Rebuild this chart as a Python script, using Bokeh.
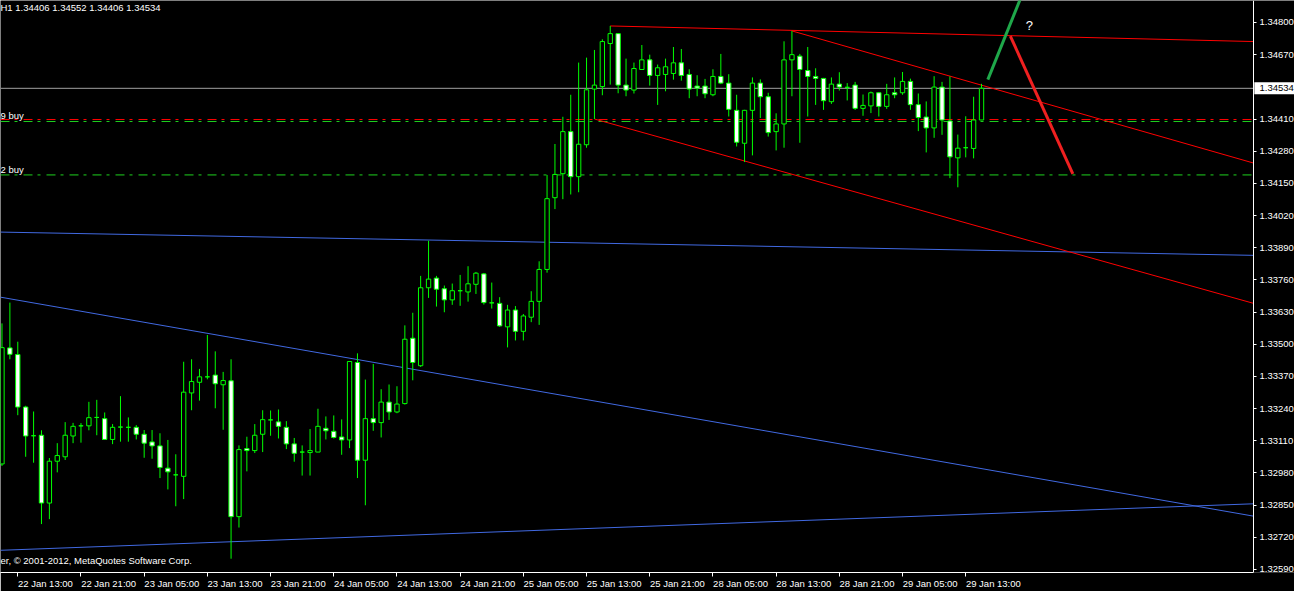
from bokeh.plotting import figure
from bokeh.models import Range1d, FixedTicker, PrintfTickFormatter, ColumnDataSource
from bokeh.embed import file_html
from bokeh.resources import INLINE
from bokeh.core.properties import value

# ---------------- data (H1 bars, 22 Jan 11:00 .. 29 Jan 15:00) ----------------
opens = [1.33016, 1.33485, 1.33458, 1.33246, 1.33130, 1.33132, 1.32858, 1.33027, 1.33045, 1.33129,
         1.33170, 1.33170, 1.33204, 1.33199, 1.33115, 1.33165, 1.33164, 1.33164, 1.33136, 1.33105,
         1.33089, 1.32999, 1.32972, 1.32966, 1.33303, 1.33346, 1.33368, 1.33375, 1.33336, 1.33352,
         1.32803, 1.33078, 1.33070, 1.33136, 1.33194, 1.33186, 1.33164, 1.33097, 1.33064, 1.33062,
         1.33064, 1.33160, 1.33148, 1.33125, 1.33113, 1.33426, 1.33031, 1.33199, 1.33183, 1.33266,
         1.33226, 1.33260, 1.33524, 1.33413, 1.33728, 1.33767, 1.33724, 1.33679, 1.33716, 1.33711,
         1.33742, 1.33784, 1.33667, 1.33665, 1.33570, 1.33638, 1.33552, 1.33609, 1.33673, 1.33802,
         1.34092, 1.34189, 1.34359, 1.34177, 1.34306, 1.34531, 1.34541, 1.34715, 1.34755, 1.34547,
         1.34527, 1.34610, 1.34649, 1.34586, 1.34590, 1.34594, 1.34637, 1.34590, 1.34543, 1.34543,
         1.34508, 1.34582, 1.34555, 1.34445, 1.34312, 1.34445, 1.34555, 1.34500, 1.34359, 1.34390,
         1.34649, 1.34664, 1.34606, 1.34582, 1.34574, 1.34480, 1.34551, 1.34538, 1.34547, 1.34453,
         1.34463, 1.34516, 1.34461, 1.34516, 1.34516, 1.34562, 1.34468, 1.34418, 1.34374, 1.34539,
         1.34402, 1.34253, 1.34294, 1.34291, 1.34406]
highs = [1.33584, 1.33668, 1.33510, 1.33251, 1.33228, 1.33152, 1.33040, 1.33100, 1.33185, 1.33182,
         1.33181, 1.33267, 1.33275, 1.33224, 1.33177, 1.33290, 1.33204, 1.33173, 1.33153, 1.33153,
         1.33140, 1.33113, 1.33055, 1.33429, 1.33439, 1.33400, 1.33537, 1.33471, 1.33388, 1.33439,
         1.33091, 1.33126, 1.33177, 1.33233, 1.33232, 1.33236, 1.33189, 1.33121, 1.33091, 1.33157,
         1.33239, 1.33208, 1.33212, 1.33196, 1.33431, 1.33463, 1.33357, 1.33420, 1.33318, 1.33337,
         1.33330, 1.33576, 1.33627, 1.33776, 1.33918, 1.33776, 1.33737, 1.33745, 1.33780, 1.33815,
         1.33792, 1.33788, 1.33749, 1.33690, 1.33659, 1.33654, 1.33622, 1.33714, 1.33835, 1.34184,
         1.34309, 1.34419, 1.34508, 1.34638, 1.34658, 1.34689, 1.34732, 1.34786, 1.34757, 1.34654,
         1.34638, 1.34709, 1.34670, 1.34630, 1.34654, 1.34701, 1.34693, 1.34611, 1.34587, 1.34572,
         1.34611, 1.34673, 1.34591, 1.34508, 1.34447, 1.34578, 1.34570, 1.34516, 1.34433, 1.34724,
         1.34766, 1.34673, 1.34701, 1.34615, 1.34576, 1.34578, 1.34599, 1.34555, 1.34560, 1.34509,
         1.34521, 1.34518, 1.34552, 1.34578, 1.34600, 1.34573, 1.34513, 1.34481, 1.34583, 1.34560,
         1.34582, 1.34347, 1.34421, 1.34500, 1.34552]
lows = [1.33008, 1.33439, 1.33213, 1.33045, 1.33021, 1.32773, 1.32793, 1.32982, 1.33032, 1.33100,
        1.33102, 1.33152, 1.33132, 1.33113, 1.33096, 1.33106, 1.33106, 1.33115, 1.33041, 1.33037,
        1.32959, 1.32913, 1.32845, 1.32874, 1.33233, 1.33272, 1.33358, 1.33241, 1.33154, 1.32633,
        1.32759, 1.32986, 1.33060, 1.33064, 1.33130, 1.33119, 1.33076, 1.33025, 1.32969, 1.32969,
        1.33064, 1.33115, 1.33119, 1.33053, 1.33080, 1.32959, 1.32849, 1.33150, 1.33123, 1.33194,
        1.33221, 1.33256, 1.33354, 1.33408, 1.33687, 1.33652, 1.33629, 1.33659, 1.33655, 1.33672,
        1.33703, 1.33660, 1.33644, 1.33570, 1.33487, 1.33515, 1.33515, 1.33589, 1.33578, 1.33789,
        1.34046, 1.34086, 1.34105, 1.34114, 1.34294, 1.34410, 1.34506, 1.34549, 1.34514, 1.34502,
        1.34513, 1.34608, 1.34545, 1.34467, 1.34522, 1.34569, 1.34565, 1.34494, 1.34502, 1.34494,
        1.34502, 1.34551, 1.34420, 1.34299, 1.34236, 1.34263, 1.34414, 1.34339, 1.34283, 1.34294,
        1.34502, 1.34314, 1.34420, 1.34467, 1.34447, 1.34471, 1.34525, 1.34485, 1.34447, 1.34423,
        1.34434, 1.34420, 1.34451, 1.34494, 1.34508, 1.34447, 1.34361, 1.34275, 1.34334, 1.34346,
        1.34171, 1.34134, 1.34255, 1.34251, 1.34406]
closes = [1.33486, 1.33459, 1.33246, 1.33129, 1.33130, 1.32858, 1.33027, 1.33050, 1.33132, 1.33168,
          1.33170, 1.33203, 1.33204, 1.33115, 1.33164, 1.33165, 1.33164, 1.33136, 1.33100, 1.33089,
          1.33002, 1.32984, 1.32972, 1.33306, 1.33349, 1.33368, 1.33368, 1.33340, 1.33353, 1.32803,
          1.33074, 1.33070, 1.33132, 1.33195, 1.33194, 1.33168, 1.33097, 1.33059, 1.33064, 1.33070,
          1.33168, 1.33150, 1.33123, 1.33113, 1.33430, 1.33031, 1.33199, 1.33183, 1.33266, 1.33226,
          1.33258, 1.33520, 1.33426, 1.33728, 1.33763, 1.33722, 1.33679, 1.33716, 1.33716, 1.33744,
          1.33787, 1.33668, 1.33667, 1.33574, 1.33638, 1.33552, 1.33614, 1.33673, 1.33802, 1.34088,
          1.34186, 1.34359, 1.34177, 1.34308, 1.34528, 1.34547, 1.34723, 1.34755, 1.34547, 1.34527,
          1.34614, 1.34649, 1.34586, 1.34617, 1.34621, 1.34637, 1.34586, 1.34531, 1.34535, 1.34512,
          1.34582, 1.34555, 1.34449, 1.34316, 1.34445, 1.34555, 1.34500, 1.34355, 1.34390, 1.34649,
          1.34670, 1.34610, 1.34582, 1.34574, 1.34484, 1.34551, 1.34539, 1.34538, 1.34453, 1.34465,
          1.34516, 1.34461, 1.34508, 1.34508, 1.34562, 1.34468, 1.34416, 1.34374, 1.34539, 1.34406,
          1.34257, 1.34292, 1.34294, 1.34406, 1.34534]

# time axis (bar index -> label)
time_tick_bars = [2, 10, 18, 26, 34, 42, 50, 58, 66, 74, 82, 90, 98, 106, 114, 122]
time_tick_labels = ["22 Jan 13:00", "22 Jan 21:00", "23 Jan 05:00", "23 Jan 13:00",
                    "23 Jan 21:00", "24 Jan 05:00", "24 Jan 13:00", "24 Jan 21:00",
                    "25 Jan 05:00", "25 Jan 13:00", "25 Jan 21:00", "28 Jan 05:00",
                    "28 Jan 13:00", "28 Jan 21:00", "29 Jan 05:00", "29 Jan 13:00"]
price_ticks = [1.34800, 1.34670, 1.34410, 1.34280, 1.34150, 1.34020, 1.33890, 1.33760,
               1.33630, 1.33500, 1.33370, 1.33240, 1.33110, 1.32980, 1.32850, 1.32720, 1.32590]

# horizontal levels
current_price = 1.34534
order_levels = [1.34400, 1.34184]
order_labels = ["9 buy", "2 buy"]
stop_level = 1.34408

# trend lines: (bar0, price0, bar1, price1)
blue_lines = [(-0.1875, 1.33953, 158.4375, 1.33859),
              (-0.1875, 1.33690, 158.4375, 1.32805),
              (-0.1875, 1.32667, 158.4375, 1.32855)]
red_lines = [(77, 1.34786, 158.4375, 1.34723),
             (100, 1.34766, 158.4375, 1.34232),
             (75, 1.34410, 158.4375, 1.33665)]
red_arrow = (127.65, 1.34745, 135.56, 1.34188)
green_arrow = (124.8, 1.34569, 129.5, 1.34942)

header_text = "H1  1.34406 1.34552 1.34406 1.34534"
copyright_text = "er, \u00a9 2001-2012, MetaQuotes Software Corp."

# ---------------- figure ----------------
X0, X1 = -0.1875, 158.4375      # chart area (bars)
XE = 163.62                      # right end incl. price scale strip
Y0, Y1 = 1.325773, 1.348889
FONT = "Liberation Sans"
FS = "9.5px"

p = figure(width=1294, height=591, output_backend="svg", toolbar_location=None,
           x_range=Range1d(X0, XE), y_range=Range1d(Y0, Y1),
           y_axis_location="right", x_axis_location="below",
           background_fill_color="black", border_fill_color="black",
           min_border_left=0, min_border_top=0, min_border_right=0, min_border_bottom=0)
p.outline_line_color = None
p.grid.visible = False

# y axis: price scale at the right edge of the chart area
ya = p.yaxis[0]
ya.fixed_location = X1
ya.ticker = FixedTicker(ticks=price_ticks)
ya.formatter = PrintfTickFormatter(format="%.5f")
ya.axis_line_color = "white"
ya.major_tick_line_color = "white"
ya.major_tick_out = 3
ya.major_tick_in = 0
ya.minor_tick_line_color = None
ya.major_label_text_color = "white"
ya.major_label_text_font = FONT
ya.major_label_text_font_size = FS
ya.major_label_standoff = 3

# x axis: tick marks as minor ticks at the bar, labels to the right of them
xa = p.xaxis[0]
label_pos = [b + 3.5 for b in time_tick_bars]
xa.ticker = FixedTicker(ticks=label_pos, minor_ticks=time_tick_bars)
xa.major_label_overrides = {lp: t for lp, t in zip(label_pos, time_tick_labels)}
xa.bounds = (X0, X1)
xa.axis_line_color = "white"
xa.major_tick_line_color = None
xa.major_tick_out = 0
xa.major_tick_in = 0
xa.minor_tick_line_color = "white"
xa.minor_tick_out = 4
xa.minor_tick_in = 0
xa.major_label_text_color = "white"
xa.major_label_text_font = FONT
xa.major_label_text_font_size = FS
xa.major_label_standoff = 1

# blue trend lines
p.segment(x0=[l[0] for l in blue_lines], y0=[l[1] for l in blue_lines],
          x1=[l[2] for l in blue_lines], y1=[l[3] for l in blue_lines],
          line_color="#4169E1", line_width=1)

# horizontal levels (chart area only)
p.segment(x0=[X0], y0=[current_price], x1=[X1], y1=[current_price],
          line_color="#a0a0a0", line_width=1)
p.segment(x0=[X0], y0=[stop_level], x1=[X1], y1=[stop_level],
          line_color="#ff0000", line_width=1, line_dash="9 5 3 6")
p.segment(x0=[X0] * len(order_levels), y0=order_levels, x1=[X1] * len(order_levels),
          y1=order_levels, line_color="#1ed21e", line_width=1, line_dash="9 5 3 6")

# red trend lines
p.segment(x0=[l[0] for l in red_lines], y0=[l[1] for l in red_lines],
          x1=[l[2] for l in red_lines], y1=[l[3] for l in red_lines],
          line_color="#ff0000", line_width=1)

# candles
idx = list(range(len(opens)))
bull = [c >= o for o, c in zip(opens, closes)]
src = ColumnDataSource(dict(
    x=idx, high=highs, low=lows,
    top=[max(o, c) for o, c in zip(opens, closes)],
    bottom=[min(o, c) for o, c in zip(opens, closes)],
    fill=["black" if b else "white" for b in bull]))
p.segment(x0="x", y0="low", x1="x", y1="high", source=src, line_color="#00ff00", line_width=1)
p.vbar(x="x", top="top", bottom="bottom", width=0.55, source=src,
       fill_color="fill", line_color="#00ff00", line_width=1)

# hand-drawn arrows
p.line(x=[green_arrow[0], green_arrow[2]], y=[green_arrow[1], green_arrow[3]],
       line_color="#1fa84a", line_width=3)
p.line(x=[red_arrow[0], red_arrow[2]], y=[red_arrow[1], red_arrow[3]],
       line_color="#f02020", line_width=3)

# texts
p.text(x=[130.06], y=[1.34787], text=["?"], text_color="white", text_font=value(FONT),
       text_font_size=value("13px"), text_align="center", text_baseline="middle")
p.text(x=[X0], y=[1.34861], text=[header_text], text_color="white", text_font=value(FONT),
       text_font_size=value(FS), text_align="left", text_baseline="middle")
p.text(x=[X0, X0], y=order_levels, text=order_labels, text_color="white",
       text_font=value(FONT), text_font_size=value(FS), text_align="left",
       text_baseline="bottom")
p.text(x=[X0], y=[1.32624], text=[copyright_text], text_color="white", text_font=value(FONT),
       text_font_size=value(FS), text_align="left", text_baseline="middle")

# current price tag on the price scale
p.rect(x=[(X1 + XE) / 2 + 0.1], y=[current_price], width=[XE - X1], height=12,
       height_units="screen", fill_color="white", line_color=None)
p.text(x=[X1], y=[current_price], text=["1.34534"], text_color="black",
       text_font=value(FONT), text_font_size=value(FS), text_align="left",
       text_baseline="middle", x_offset=6)

open("out.html", "w").write(file_html(p, INLINE))
